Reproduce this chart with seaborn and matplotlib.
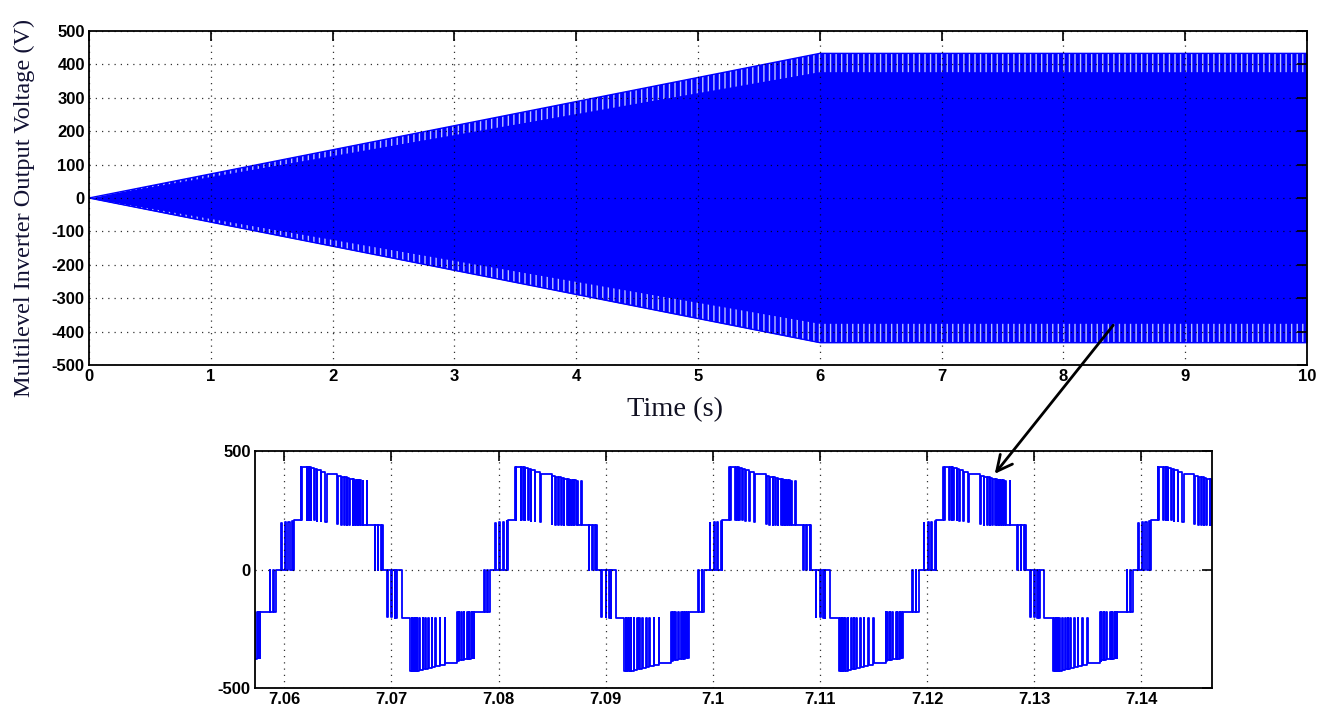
import numpy as np
import pandas as pd
import matplotlib
matplotlib.use("Agg")
import matplotlib.pyplot as plt
import seaborn as sns

# ---------------- data ----------------
# Upper panel: envelope (peak) of the inverter output voltage vs time
env_time_s = [0.0, 6.0, 10.0]
env_peak_v = [0.0, 433.0, 433.0]

top_xticks = [0, 1, 2, 3, 4, 5, 6, 7, 8, 9, 10]
top_yticks = [-500, -400, -300, -200, -100, 0, 100, 200, 300, 400, 500]

# Lower panel: one 20 ms period of the staircase PWM output read from the zoom
# (switching instant in ms after the positive zero crossing, level after it in V)
period_start_s = 7.0597
period_s = 0.02
seg_ms = [
    0.00, 0.06, 0.38, 0.46, 0.68, 0.80, 1.05, 1.12, 1.17,
    1.82, 1.90, 1.96, 2.37, 2.42, 2.60, 2.64, 2.76, 2.80, 3.06, 3.12, 3.31, 3.36, 3.69, 3.74, 4.12, 4.24,
    5.26, 5.32, 5.58, 5.64, 5.89, 5.95, 6.14, 6.19, 6.36, 6.42, 6.68, 6.74, 6.83, 6.90, 7.00, 7.05,
    7.15, 7.20, 7.31, 7.38, 7.50, 7.62, 7.68, 8.00, 8.06,
    8.72, 8.78, 9.03, 9.08, 9.33, 9.40, 9.50,
    9.90, 9.97, 10.30, 10.36, 10.60, 10.66, 10.76, 10.81, 11.24,
    12.04, 12.18, 12.22, 12.33, 12.38, 12.49, 12.53, 12.65, 12.70, 12.90, 12.95, 13.22, 13.27,
    13.44, 13.49, 13.68, 13.76, 14.06, 14.11, 14.38, 14.43, 14.79, 14.84, 15.26, 15.31,
    16.42, 16.50, 16.58, 16.63, 16.80, 16.86, 17.05, 17.10, 17.37, 17.45, 17.52, 17.58,
    17.74, 17.80, 17.86, 17.99, 18.04,
    18.94, 19.00, 19.25, 19.30, 19.52,
]
seg_v = [
    198, 0, 200, 0, 202, 0, 204, 0, 207,
    433, 207, 433, 207, 433, 207, 431, 207, 428, 207, 422, 205, 418, 203, 412, 200, 405,
    190, 396, 188, 392, 187, 389, 187, 386, 186, 383, 186, 381, 186, 379, 186, 378,
    186, 377, 186, 376, 186, 375, 186, 373, 186,
    0, 186, 0, 186, 0, 186, 0,
    -200, 0, -202, 0, -203, 0, -204, 0, -204,
    -430, -204, -430, -204, -430, -204, -429, -204, -428, -204, -425, -204, -421, -204,
    -418, -204, -415, -204, -410, -204, -406, -204, -401, -204, -396,
    -181, -385, -181, -383, -181, -381, -181, -379, -181, -377, -181, -376,
    -181, -374, -181, -372, -181,
    0, -181, 0, -181, 0,
]
periods_shown = [-1, 0, 1, 2, 3, 4]

bot_xticks = [7.06, 7.07, 7.08, 7.09, 7.10, 7.11, 7.12, 7.13, 7.14]
bot_xlabels = ["7.06", "7.07", "7.08", "7.09", "7.1", "7.11", "7.12", "7.13", "7.14"]
bot_yticks = [-500, 0, 500]

# ---------------- style ----------------
sns.set_style("white")
plt.rcParams["font.family"] = ["Liberation Sans", "DejaVu Sans"]
plt.rcParams["hatch.linewidth"] = 1.0

BLUE = "#0000ff"
tick_font = dict(fontsize=12, fontweight="bold", family=["Liberation Sans", "DejaVu Sans"])
serif = ["Liberation Serif", "DejaVu Serif"]

fig = plt.figure(figsize=(13.23, 7.10), dpi=100)

def matlab_axes(ax):
    for s in ax.spines.values():
        s.set_visible(True)
        s.set_color("black")
        s.set_linewidth(1.3)
    ax.tick_params(direction="in", length=7, width=1.2, top=True, right=True,
                   colors="black", pad=3)
    ax.grid(True, color="black", linestyle=(0, (1, 4)), linewidth=0.9, alpha=0.8)
    ax.set_axisbelow(False)

# ---------------- upper panel ----------------
ax1 = fig.add_axes([89 / 1323, 1 - 365 / 710, (1307 - 89) / 1323, (365 - 31) / 710])
env = pd.DataFrame({"t": env_time_s, "peak": env_peak_v})
peak = np.array(env_peak_v)
ax1.fill_between(env["t"], -peak, peak, color=BLUE, linewidth=0)
# notched (switching) fringe near the peaks
ax1.fill_between(env["t"], peak * 0.87, peak, facecolor=BLUE, edgecolor="#b8c0ff",
                 hatch="|||", linewidth=0)
ax1.fill_between(env["t"], -peak, -peak * 0.87, facecolor=BLUE, edgecolor="#b8c0ff",
                 hatch="|||", linewidth=0)
sns.lineplot(data=env, x="t", y="peak", ax=ax1, color=BLUE, linewidth=1.0, legend=False)
sns.lineplot(x=env["t"], y=-env["peak"], ax=ax1, color=BLUE, linewidth=1.0, legend=False)
ax1.set_xlim(0, 10)
ax1.set_ylim(-500, 500)
ax1.set_xticks(top_xticks)
ax1.set_yticks(top_yticks)
ax1.set_xticklabels([str(v) for v in top_xticks], **tick_font)
ax1.set_yticklabels([str(v) for v in top_yticks], **tick_font)
matlab_axes(ax1)
ax1.set_xlabel("Time (s)", fontsize=20.5, family=serif, color="#111122")
ax1.set_ylabel("Multilevel Inverter Output Voltage (V)", fontsize=17.5,
               family=serif, color="#111133")
ax1.xaxis.set_label_coords(0.481, -0.096)
ax1.yaxis.set_label_coords(-0.0443, 0.470)

# ---------------- lower panel ----------------
ax2 = fig.add_axes([255 / 1323, 1 - 688 / 710, (1212 - 255) / 1323, (688 - 451) / 710])
tt, vv = [], []
prev = 0.0
for k in periods_shown:
    base = period_start_s + k * period_s
    for ms, v in zip(seg_ms, seg_v):
        t = base + ms / 1000.0
        tt += [t, t]
        vv += [prev, v]
        prev = v
wave = pd.DataFrame({"t": tt, "v": vv})
sns.lineplot(data=wave, x="t", y="v", ax=ax2, color=BLUE, linewidth=1.3,
             sort=False, estimator=None, legend=False)
ax2.set_xlim(7.05726, 7.1466)
ax2.set_ylim(-500, 500)
ax2.set_xticks(bot_xticks)
ax2.set_yticks(bot_yticks)
ax2.set_xticklabels(bot_xlabels, **tick_font)
ax2.set_yticklabels([str(v) for v in bot_yticks], **tick_font)
matlab_axes(ax2)
ax2.set_xlabel("")
ax2.set_ylabel("")

# ---------------- arrow ----------------
fig.add_artist(matplotlib.patches.FancyArrowPatch(
    (1115 / 1323, 1 - 323 / 710), (993 / 1323, 1 - 476 / 710),
    transform=fig.transFigure, arrowstyle="->", mutation_scale=28,
    linewidth=2.0, color="black"))

fig.savefig("out.png", dpi=100)
